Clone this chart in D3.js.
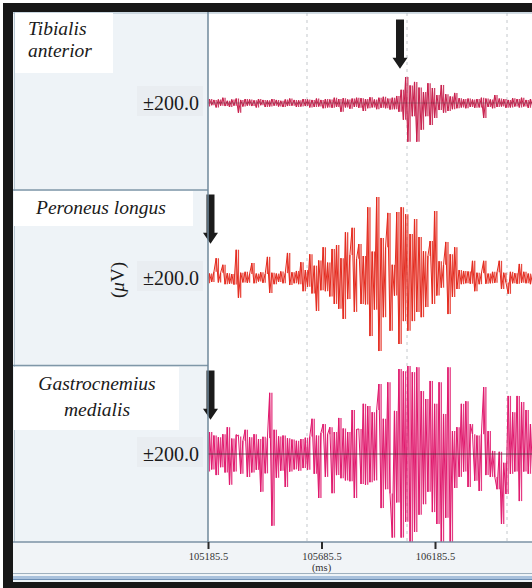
<!DOCTYPE html>
<html>
<head>
<meta charset="utf-8">
<script src="https://cdn.jsdelivr.net/npm/d3@7"></script>
<style>
  body { margin: 0; background: #fff; }
  svg { display: block; }
  .serif { font-family: "Liberation Serif", "DejaVu Serif", serif; }
</style>
</head>
<body>
<div id="chart"></div>
<script>
// EMG samples (uV), one every sampleStep ms starting at sampleStart
var sampleStart = 105172.3,
    sampleStep = 9.82;

var tibialisAnterior = [6,-8,9,-5,7,-10,8,-6,12,-7,
  5,-9,8,-6,10,-22,7,-8,9,-6,
  8,-7,6,-10,9,-5,7,-9,6,-8,
  9,-6,7,-8,5,-9,8,-7,10,-6,
  7,-9,6,-8,9,-7,8,-10,7,-9,
  10,-8,7,-12,9,-10,8,-11,12,-9,
  9,-20,11,-10,8,-13,10,-9,12,-11,
  11,-18,9,-12,13,-10,8,-14,12,-11,
  14,-12,10,-15,12,-14,16,-20,30,-38,
  59,-88,40,-30,48,-88,35,-61,25,-30,
  45,-50,34,-34,18,-16,41,-22,20,-18,
  15,-14,23,-12,11,-10,9,-12,10,-9,
  8,-11,9,-10,12,-34,10,-9,8,-12,
  18,-9,10,-8,9,-11,7,-10,11,-8,
  9,-10,12,-8,7,-11,9,-8];

var peroneusLongus = [8,-12,10,-9,14,45,-10,12,30,-14,
  11,-13,9,-15,64,-45,12,-10,14,-11,
  9,34,-12,10,-8,13,-11,9,48,-34,
  12,-14,10,-9,15,-12,11,57,-16,13,
  -12,16,-14,36,-30,18,-20,54,-35,28,
  -75,40,-28,70,-30,35,-42,66,-59,75,
  -70,45,-93,104,-48,52,114,-77,44,77,
  -59,50,-60,161,-132,60,-72,184,-166,91,
  -89,70,148,-120,30,-40,150,-150,161,-98,
  145,-120,100,-98,134,-77,93,-89,61,-66,
  50,84,-59,152,-40,38,-22,30,82,-82,
  54,-43,70,-25,18,-14,16,-12,15,-13,
  39,-30,12,-14,11,39,-13,10,-12,14,
  -11,13,39,-25,12,-10,-36,14,-12,11,
  -13,32,-11,14,-12,10,-14,12];

var gastrocnemiusMedialis = [30,-40,50,-35,42,-48,38,-30,45,-42,
  61,-70,35,-40,44,40,-45,30,55,-52,
  38,-42,45,-36,34,-86,39,-44,36,139,
  -163,55,-54,40,-38,42,-75,36,-40,33,
  -35,30,-38,34,-32,37,-36,40,80,-45,
  42,-100,48,68,-52,45,61,-89,50,-48,
  82,-55,58,-60,50,-62,100,-100,56,57,
  -68,114,-70,109,-64,95,-60,100,159,-123,
  80,-80,163,-90,-190,98,-110,193,-190,188,
  -154,200,-200,186,-177,197,-138,143,-114,125,
  -86,166,-132,114,-159,163,-200,91,-145,197,
  -200,52,-77,61,-52,114,-40,120,-75,68,
  45,-61,42,-84,45,152,-48,52,-52,7,
  -52,-80,5,-159,-20,-91,132,-45,95,-40,
  132,-107,118,-40,100,-45,68,-45];

var muscleNames = [["Tibialis", "anterior"], ["Peroneus longus"], ["Gastrocnemius", "medialis"]];
var rangeLabel = "\u00b1200.0";
var xTicks = [105185.5, 105685.5, 106185.5];
var gridTimes = [105621.6, 106062.2, 106502.7];
var onsetTimes = [106031.3, 105196.5, 105196.5];

var signals = [tibialisAnterior, peroneusLongus, gastrocnemiusMedialis],
    colors = ["#c81f4c", "#e42a1e", "#e0196d"];

var W = 532, H = 588,
    plotLeft = 208, plotTop = 13, plotBottom = 542,
    panelTops = [15, 190, 366], panelH = 176;

var svg = d3.select("#chart").append("svg").attr("width", W).attr("height", H);

//Frame
svg.append("rect").attr("width", W).attr("height", H).attr("fill", "#fff");
svg.append("rect").attr("x", 3).attr("y", 3).attr("width", 560).attr("height", 600).attr("fill", "#171717");
svg.append("rect").attr("x", 13).attr("y", 12).attr("width", 550).attr("height", 570).attr("fill", "#eef3f7");
svg.append("rect").attr("x", plotLeft).attr("y", plotTop).attr("width", 340).attr("height", plotBottom - plotTop).attr("fill", "#fff");

var x = d3.scaleLinear().domain([105185.5, 106185.5]).range([plotLeft, plotLeft + 227]);

//Grid
svg.selectAll(".grid").data(gridTimes).enter().append("line")
  .attr("class", "grid")
  .attr("x1", function(d){ return x(d); }).attr("x2", function(d){ return x(d); })
  .attr("y1", plotTop).attr("y2", plotBottom)
  .attr("stroke", "#c4c8cc").attr("stroke-dasharray", "3,4");

//Left panel lines
svg.append("line").attr("x1", 14.5).attr("x2", 14.5).attr("y1", 12).attr("y2", plotBottom)
  .attr("stroke", "#b9c8d3");
svg.append("line").attr("x1", 13).attr("x2", 560).attr("y1", 13).attr("y2", 13)
  .attr("stroke", "#a7bac8");
[190, 365.5].forEach(function(yy){
  svg.append("line").attr("x1", 13).attr("x2", plotLeft).attr("y1", yy).attr("y2", yy)
    .attr("stroke", "#7f97a8").attr("stroke-width", 1.5);
});

svg.append("clipPath").attr("id", "clip").append("rect")
  .attr("x", plotLeft + 0.5).attr("y", plotTop).attr("width", 340).attr("height", plotBottom - plotTop);

var boxes = [
  {x: 15, y: 13, w: 98, h: 60, lines: [35, 57], tx: [28, 28], anchor: "start"},
  {x: 14, y: 191, w: 179, h: 35, lines: [214], tx: [36], anchor: "start"},
  {x: 14, y: 367, w: 165, h: 63, lines: [390, 416], tx: [97, 97], anchor: "middle"}
];

signals.forEach(function(data, k){
  var top = panelTops[k],
      y = d3.scaleLinear().domain([-200, 200]).range([top + panelH, top]),
      base = y(0);

  // each sample drawn as a vertical stroke from the previous sample value
  var trace = svg.append("g").attr("clip-path", "url(#clip)");

  trace.selectAll(".seg").data(data.slice(1)).enter().append("line")
    .attr("class", "seg")
    .attr("x1", function(d, i){ return x(sampleStart + (i + 1) * sampleStep); })
    .attr("x2", function(d, i){ return x(sampleStart + (i + 1) * sampleStep); })
    .attr("y1", function(d, i){ return y(data[i]); })
    .attr("y2", function(d){ return y(d); })
    .attr("stroke", colors[k])
    .attr("stroke-opacity", 0.85)
    .attr("stroke-width", 1.3);

  trace.append("path").datum(data)
    .attr("d", d3.line()
      .x(function(d, i){ return x(sampleStart + i * sampleStep); })
      .y(function(d){ return y(d); }))
    .attr("fill", "none")
    .attr("stroke", colors[k])
    .attr("stroke-width", 1);

  if(k != 1){
    svg.append("line").attr("x1", plotLeft).attr("x2", W).attr("y1", base).attr("y2", base)
      .attr("stroke", "#3a3a3a").attr("opacity", k == 0 ? 0.35 : 0.75);
  }

  //Muscle name box
  var b = boxes[k];
  svg.append("rect").attr("x", b.x).attr("y", b.y).attr("width", b.w).attr("height", b.h).attr("fill", "#fff");
  muscleNames[k].forEach(function(t, j){
    svg.append("text").attr("class", "serif")
      .attr("x", b.tx[j]).attr("y", b.lines[j])
      .attr("text-anchor", b.anchor)
      .style("font-style", "italic").style("font-size", "19.5px").attr("fill", "#1a1a1a")
      .text(t);
  });

  //Range label
  svg.append("rect").attr("x", 137).attr("y", base - 17).attr("width", 66).attr("height", 30).attr("fill", "#e9edf1");
  svg.append("text").attr("class", "serif")
    .attr("x", 199).attr("y", base + 7)
    .attr("text-anchor", "end")
    .style("font-size", "20px").attr("fill", "#1a1a1a")
    .text(rangeLabel);

  //Onset arrow
  var ax = x(onsetTimes[k]), ay0 = y(190), ay1 = y(78);
  svg.append("path")
    .attr("d", "M" + (ax - 4) + "," + ay0 + "V" + (ay1 - 11) + "H" + (ax - 7.5) + "L" + ax + "," + ay1 +
      "L" + (ax + 7.5) + "," + (ay1 - 11) + "H" + (ax + 4) + "V" + ay0 + "Z")
    .attr("fill", "#1b1b1b");
});

//Unit label
svg.append("text").attr("class", "serif")
  .attr("transform", "translate(124,280) rotate(-90)")
  .attr("text-anchor", "middle")
  .style("font-size", "19px").attr("fill", "#1a1a1a")
  .html("(<tspan font-style='italic'>\u03bc</tspan>V)");

//Left border of plot
svg.append("line").attr("x1", plotLeft).attr("x2", plotLeft).attr("y1", 12).attr("y2", plotBottom)
  .attr("stroke", "#6f889b").attr("stroke-width", 1.5);

//X axis strip
svg.append("rect").attr("x", 13).attr("y", plotBottom).attr("width", 550).attr("height", 31).attr("fill", "#f1f4f7");
svg.append("line").attr("x1", 13).attr("x2", W).attr("y1", plotBottom).attr("y2", plotBottom)
  .attr("stroke", "#7b92a4").attr("stroke-width", 1.5);
svg.append("line").attr("x1", 13).attr("x2", W).attr("y1", 573.5).attr("y2", 573.5)
  .attr("stroke", "#9fb0be");
svg.append("rect").attr("x", 13).attr("y", 576).attr("width", 550).attr("height", 3).attr("fill", "#a9c1dc");
svg.append("line").attr("x1", 13).attr("x2", W).attr("y1", 579.5).attr("y2", 579.5)
  .attr("stroke", "#6b8db4");

var xAxis = svg.append("g")
  .attr("transform", "translate(0," + plotBottom + ")")
  .call(d3.axisBottom(x).tickValues(xTicks).tickSize(7).tickPadding(4).tickFormat(d3.format(".1f")));
xAxis.select(".domain").remove();
xAxis.selectAll(".tick line").attr("stroke", "#2b2b2b").attr("stroke-width", 2);
xAxis.selectAll(".tick text")
  .style("font-family", "Liberation Serif, serif")
  .style("font-size", "10.5px")
  .attr("fill", "#333");

svg.append("text").attr("class", "serif")
  .attr("x", x(105685.5)).attr("y", 570.5)
  .attr("text-anchor", "middle")
  .style("font-size", "10.5px").attr("fill", "#333")
  .text("(ms)");
</script>
</body>
</html>
